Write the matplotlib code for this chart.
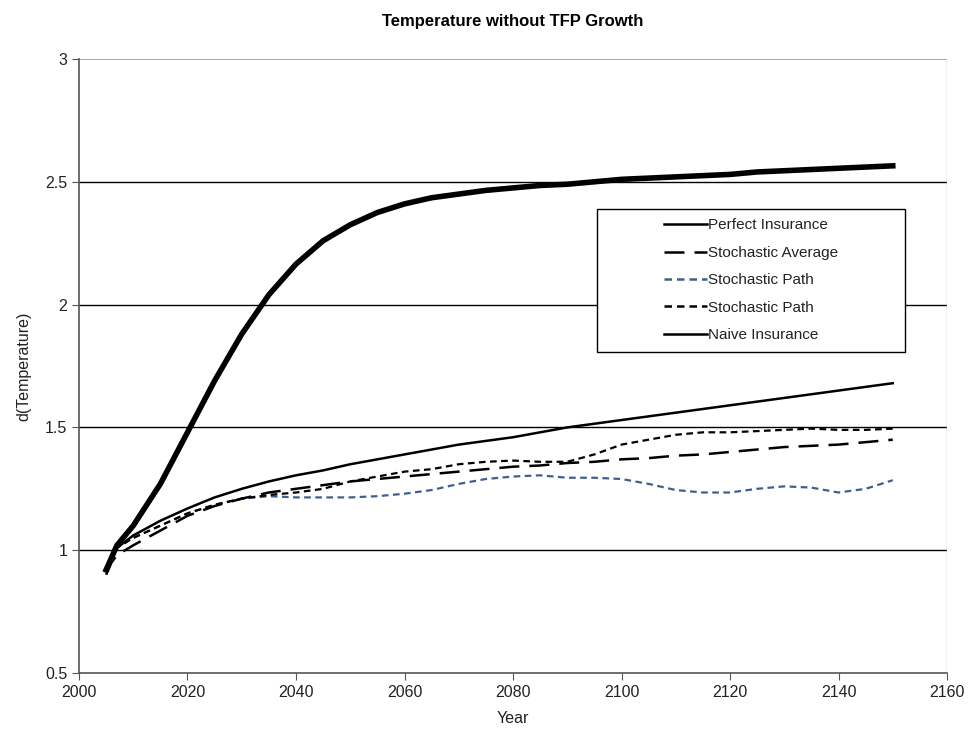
import matplotlib.pyplot as plt
from matplotlib.patches import Rectangle
import numpy as np

plt.rcParams['font.family'] = ['Liberation Sans', 'DejaVu Sans']

# values, every 5 years
years = [2005, 2006, 2007, 2010, 2015, 2020, 2025, 2030, 2035, 2040, 2045, 2050, 2055,
         2060, 2065, 2070, 2075, 2080, 2085, 2090, 2095, 2100, 2105, 2110, 2115,
         2120, 2125, 2130, 2135, 2140, 2145, 2150]

perfect = [0.92, 0.97, 1.02, 1.10, 1.27, 1.48, 1.69, 1.88, 2.04, 2.165, 2.26, 2.325, 2.375,
           2.41, 2.435, 2.45, 2.465, 2.475, 2.485, 2.49, 2.50, 2.51, 2.515, 2.52, 2.525,
           2.53, 2.54, 2.545, 2.55, 2.555, 2.56, 2.565]

naive = [0.92, 0.98, 1.01, 1.06, 1.12, 1.17, 1.215, 1.25, 1.28, 1.305, 1.325, 1.35, 1.37,
         1.39, 1.41, 1.43, 1.445, 1.46, 1.48, 1.50, 1.515, 1.53, 1.545, 1.56, 1.575,
         1.59, 1.605, 1.62, 1.635, 1.65, 1.665, 1.68]

stoch_avg = [0.90, 0.95, 0.98, 1.02, 1.08, 1.14, 1.18, 1.21, 1.235, 1.25, 1.265, 1.28, 1.29,
             1.30, 1.31, 1.32, 1.33, 1.34, 1.345, 1.355, 1.36, 1.37, 1.375, 1.385, 1.39,
             1.40, 1.41, 1.42, 1.425, 1.43, 1.44, 1.45]

path_black = [0.92, 0.98, 1.01, 1.05, 1.10, 1.15, 1.185, 1.21, 1.225, 1.235, 1.25, 1.28, 1.30,
              1.32, 1.33, 1.35, 1.36, 1.365, 1.36, 1.36, 1.39, 1.43, 1.45, 1.47, 1.48,
              1.48, 1.485, 1.49, 1.495, 1.49, 1.49, 1.495]

path_blue = [0.92, 0.98, 1.01, 1.05, 1.10, 1.15, 1.185, 1.21, 1.22, 1.215, 1.215, 1.215, 1.22,
             1.23, 1.245, 1.27, 1.29, 1.30, 1.305, 1.295, 1.295, 1.29, 1.27, 1.245, 1.235,
             1.235, 1.25, 1.26, 1.255, 1.235, 1.25, 1.285]

fig = plt.figure(figsize=(9.74, 7.4), dpi=100)
ax = fig.add_axes([0.0811, 0.0905, 0.8912, 0.8298])

ax.plot(years, perfect, color='black', lw=4, label='Perfect Insurance', zorder=5,
        solid_joinstyle='round')
ax.plot(years, stoch_avg, color='black', lw=1.8, dashes=(8, 4), label='Stochastic Average', zorder=4)
ax.plot(years, path_blue, color='#3f5f8f', lw=1.6, dashes=(3, 2), label='Stochastic Path', zorder=3)
ax.plot(years, path_black, color='black', lw=1.6, dashes=(3, 2), label='Stochastic Path', zorder=4)
ax.plot(years, naive, color='black', lw=1.8, label='Naive Insurance', zorder=4)

ax.set_xlim(2000, 2160)
ax.set_ylim(0.5, 3)
ax.set_xticks(np.arange(2000, 2161, 20))
ax.set_yticks([0.5, 1, 1.5, 2, 2.5, 3])
ax.set_yticklabels(['0.5', '1', '1.5', '2', '2.5', '3'])
ax.tick_params(direction='out', length=5, color='#555555', labelsize=11.5, labelcolor='#222222')

for y in [1, 1.5, 2, 2.5]:
    ax.axhline(y, color='black', lw=1, zorder=1)
ax.axhline(3, color='#999999', lw=1.2, zorder=1)

for side in ['top', 'right']:
    ax.spines[side].set_visible(False)
ax.axvline(2160, color='#bbbbbb', lw=1, zorder=1)
for side in ['left', 'bottom']:
    ax.spines[side].set_color('#555555')
    ax.spines[side].set_linewidth(1.2)

ax.set_xlabel('Year', fontsize=11.5, color='#222222', labelpad=8)
ax.set_ylabel('d(Temperature)', fontsize=11.5, color='#222222', labelpad=10)
ax.set_title('Temperature without TFP Growth', fontsize=12, fontweight='bold', pad=24)

# legend box is wider than its entries, entries sit in the middle
ax.add_patch(Rectangle((0.597, 0.523), 0.355, 0.233, transform=ax.transAxes,
                       facecolor='white', edgecolor='black', lw=1, zorder=6))
leg = ax.legend(loc='center', bbox_to_anchor=(0.7745, 0.6395), frameon=False,
                fontsize=11, handlelength=2.8, handletextpad=0.1,
                labelspacing=0.88, borderaxespad=0)
leg.set_zorder(7)
for h in leg.get_lines():
    h.set_linewidth(1.8)
for t in leg.get_texts():
    t.set_color('#222222')

plt.savefig('out.png', dpi=100)
